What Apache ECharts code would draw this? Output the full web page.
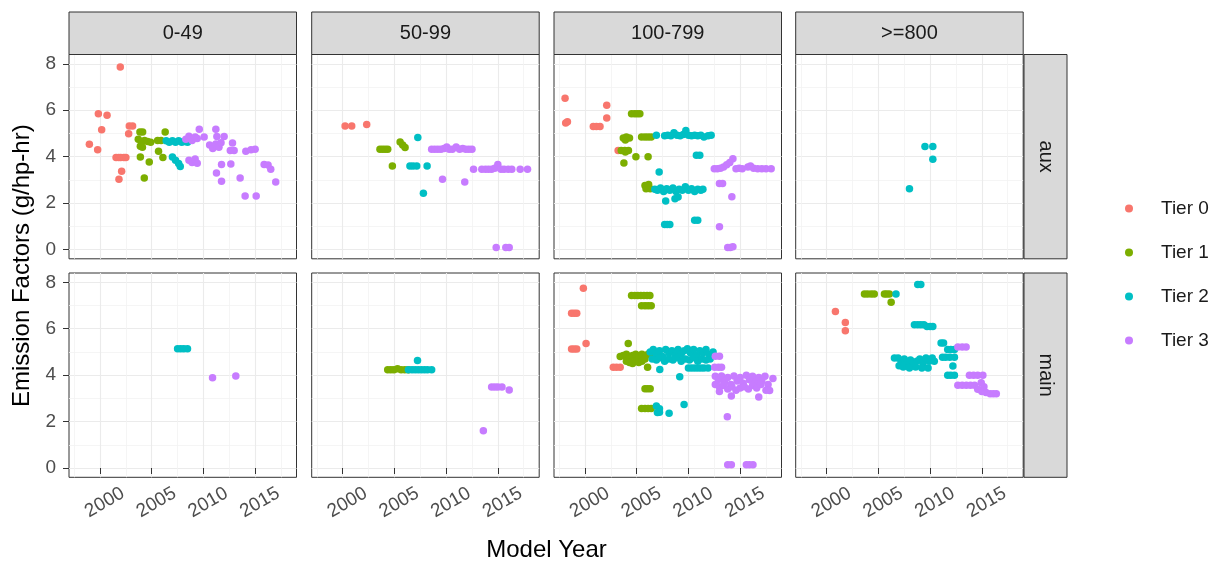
<!DOCTYPE html>
<html>
<head>
<meta charset="utf-8">
<script src="https://cdn.jsdelivr.net/npm/echarts@6/dist/echarts.min.js"></script>
<style>
html,body{margin:0;padding:0;background:#fff;}
#chart{width:1224px;height:563px;}
</style>
</head>
<body>
<div id="chart"></div>
<script>
// ---------- DATA ----------
var colLabels = ['0-49', '50-99', '100-799', '>=800'];
var rowLabels = ['aux', 'main'];
var tierNames = ['Tier 0', 'Tier 1', 'Tier 2', 'Tier 3'];
var xTicks = [2000, 2005, 2010, 2015];
var xMinor = [1997.5, 2002.5, 2007.5, 2012.5, 2017.5];
var yTicks = [0, 2, 4, 6, 8];
var yMinor = [1, 3, 5, 7];

// aux, 0-49
var aux_0_49_t0 = [[2001.96,7.86],[1999.84,5.85],[2000.68,5.78],[2000.16,5.16],[1998.97,4.53],[1999.77,4.30],[2002.83,5.32],[2003.15,5.32],[2002.77,4.99],[2001.55,3.96],[2001.8,3.96],[2002.0,3.96],[2002.3,3.96],[2002.5,3.96],[2002.09,3.37],[2001.83,3.03]];
var aux_0_49_t1 = [[2003.86,5.06],[2004.12,5.06],[2003.7,4.75],[2004.0,4.62],[2004.3,4.7],[2004.6,4.65],[2004.9,4.62],[2003.9,4.45],[2004.1,4.4],[2006.3,5.06],[2005.57,4.7],[2005.9,4.7],[2005.66,4.23],[2006.08,3.96],[2003.9,3.99],[2004.76,3.77],[2004.28,3.08]];
var aux_0_49_t2 = [[2006.4,4.68],[2006.7,4.62],[2007.0,4.68],[2007.3,4.62],[2007.6,4.68],[2007.9,4.62],[2008.2,4.65],[2008.46,4.62],[2007.0,3.99],[2007.3,3.85],[2007.76,3.58],[2007.6,3.7]];
var aux_0_49_t3 = [[2008.3,4.75],[2008.6,4.88],[2008.9,4.7],[2009.2,4.85],[2009.4,4.78],[2009.6,5.18],[2010.07,4.85],[2011.2,5.18],[2011.3,4.87],[2012.0,4.87],[2010.6,4.5],[2010.9,4.35],[2011.2,4.55],[2011.5,4.4],[2011.7,4.6],[2012.81,4.59],[2012.97,4.27],[2012.6,4.27],[2014.1,4.23],[2015.0,4.32],[2014.6,4.3],[2008.6,3.85],[2008.9,3.75],[2009.2,3.9],[2009.4,3.72],[2011.75,3.66],[2012.65,3.68],[2011.26,3.30],[2011.75,2.94],[2013.55,3.08],[2015.87,3.66],[2016.25,3.64],[2016.51,3.46],[2016.99,2.91],[2014.03,2.31],[2015.1,2.31]];

// aux, 50-99
var aux_50_99_t0 = [[2000.23,5.32],[2000.87,5.32],[2002.32,5.38]];
var aux_50_99_t1 = [[2003.6,4.32],[2003.85,4.32],[2004.1,4.32],[2004.35,4.32],[2005.55,4.63],[2005.8,4.5],[2006.03,4.39],[2004.8,3.6]];
var aux_50_99_t2 = [[2007.26,4.83],[2006.5,3.6],[2006.8,3.6],[2007.16,3.6],[2008.16,3.6],[2007.8,2.42]];
var aux_50_99_t3 = [[2008.6,4.32],[2008.9,4.32],[2009.2,4.32],[2009.5,4.32],[2009.8,4.35],[2010.06,4.42],[2010.3,4.32],[2010.6,4.32],[2010.97,4.42],[2011.3,4.32],[2011.6,4.35],[2011.9,4.32],[2012.2,4.32],[2012.5,4.32],[2009.65,3.03],[2011.8,2.91],[2012.65,3.46],[2013.45,3.46],[2013.8,3.46],[2014.1,3.46],[2014.4,3.46],[2014.7,3.5],[2015.0,3.66],[2015.3,3.46],[2015.6,3.46],[2016.0,3.46],[2016.35,3.46],[2017.16,3.46],[2017.87,3.46],[2014.84,0.09],[2015.77,0.09],[2016.1,0.09]];

// aux, 100-799
var aux_100_799_t0 = [[1998.07,6.52],[1998.13,5.45],[1998.3,5.5],[2000.8,5.3],[2001.1,5.3],[2001.45,5.3],[2002.1,6.21],[2002.1,5.66],[2003.2,4.27]];
var aux_100_799_t1 = [[2004.5,5.85],[2004.8,5.85],[2005.05,5.85],[2005.3,5.85],[2003.7,4.8],[2004.0,4.85],[2004.3,4.8],[2003.9,4.72],[2005.47,4.85],[2005.8,4.85],[2006.1,4.85],[2006.4,4.85],[2003.5,4.27],[2003.85,4.27],[2004.2,4.27],[2003.9,4.2],[2004.92,4.0],[2006.1,4.0],[2003.76,3.73],[2005.8,2.76],[2006.0,2.7],[2006.3,2.62],[2005.9,2.62],[2006.15,2.8]];
var aux_100_799_t2 = [[2006.9,4.92],[2007.7,4.9],[2008.0,4.92],[2008.3,4.9],[2008.6,5.03],[2008.9,4.92],[2009.2,4.9],[2009.5,4.95],[2009.75,5.13],[2010.0,4.92],[2010.3,4.9],[2010.6,4.92],[2010.9,4.9],[2011.2,4.92],[2011.5,4.85],[2011.9,4.9],[2012.2,4.92],[2010.77,4.06],[2011.1,4.06],[2007.17,3.34],[2006.75,2.6],[2007.0,2.55],[2007.3,2.65],[2007.6,2.5],[2007.9,2.62],[2008.2,2.55],[2008.5,2.65],[2008.8,2.5],[2009.1,2.6],[2009.4,2.55],[2009.7,2.7],[2010.0,2.55],[2010.3,2.62],[2010.6,2.5],[2010.9,2.6],[2011.2,2.55],[2011.4,2.6],[2007.8,2.09],[2008.7,2.19],[2009.0,2.26],[2007.7,1.08],[2007.95,1.08],[2008.2,1.08],[2010.6,1.26],[2010.9,1.26]];
var aux_100_799_t3 = [[2012.5,3.48],[2012.8,3.48],[2013.1,3.5],[2013.4,3.55],[2013.7,3.65],[2014.3,3.91],[2014.0,3.75],[2014.6,3.48],[2014.9,3.5],[2015.2,3.48],[2015.75,3.55],[2016.0,3.6],[2016.3,3.5],[2016.7,3.48],[2017.1,3.48],[2017.5,3.48],[2018.0,3.48],[2013.0,2.84],[2013.3,2.84],[2014.2,2.27],[2013.0,0.98],[2013.8,0.09],[2014.05,0.09],[2014.3,0.12]];

// aux, >=800
var aux_800_t0 = [];
var aux_800_t1 = [];
var aux_800_t2 = [[2009.5,4.44],[2010.26,4.44],[2010.26,3.89],[2008.0,2.62]];
var aux_800_t3 = [];

// main, 0-49
var main_0_49_t0 = [];
var main_0_49_t1 = [];
var main_0_49_t2 = [[2007.5,5.14],[2007.8,5.14],[2008.1,5.14],[2008.46,5.14]];
var main_0_49_t3 = [[2010.88,3.89],[2013.13,3.96]];

// main, 50-99
var main_50_99_t0 = [];
var main_50_99_t1 = [[2004.35,4.23],[2004.65,4.23],[2004.95,4.23],[2005.3,4.28],[2005.65,4.23],[2006.0,4.23],[2006.35,4.23]];
var main_50_99_t2 = [[2006.35,4.23],[2006.7,4.23],[2007.0,4.23],[2007.3,4.23],[2007.6,4.23],[2007.9,4.23],[2008.2,4.23],[2008.6,4.23],[2007.23,4.63]];
var main_50_99_t3 = [[2014.4,3.49],[2014.7,3.49],[2015.0,3.49],[2015.4,3.49],[2016.1,3.36],[2013.6,1.61]];

// main, 100-799
var main_100_799_t0 = [[1999.84,7.74],[1998.7,6.67],[1998.95,6.67],[1999.2,6.67],[1998.7,5.13],[1998.95,5.13],[1999.2,5.13],[2000.1,5.36],[2002.73,4.34],[2003.05,4.34],[2003.4,4.34]];
var main_100_799_t1 = [[2004.5,7.43],[2004.8,7.43],[2005.1,7.43],[2005.4,7.43],[2005.7,7.43],[2006.0,7.43],[2006.27,7.43],[2005.47,6.99],[2005.8,6.99],[2006.1,6.99],[2006.4,6.99],[2004.18,5.36],[2003.4,4.8],[2003.7,4.85],[2004.0,4.9],[2004.3,4.75],[2004.6,4.85],[2004.9,4.9],[2005.2,4.8],[2005.5,4.9],[2005.8,4.85],[2006.1,4.9],[2006.4,4.85],[2004.0,4.6],[2004.3,4.55],[2004.6,4.5],[2004.9,4.6],[2005.2,4.55],[2005.5,4.6],[2005.8,4.7],[2006.05,4.34],[2005.8,3.41],[2006.05,3.41],[2006.3,3.41],[2005.47,2.56],[2005.8,2.56],[2006.1,2.56],[2006.4,2.56]];
var main_100_799_t2 = [[2006.3,5.0],[2006.6,5.1],[2006.9,4.9],[2007.2,5.05],[2007.5,4.8],[2007.8,5.1],[2008.1,4.95],[2008.4,5.05],[2008.7,4.85],[2009.0,5.1],[2009.3,4.9],[2009.6,5.05],[2009.9,5.14],[2010.2,4.95],[2010.5,5.1],[2010.8,4.85],[2011.1,5.05],[2011.4,4.95],[2011.7,5.1],[2012.0,4.9],[2012.38,5.0],[2006.5,4.7],[2006.9,4.65],[2007.3,4.75],[2007.7,4.6],[2008.1,4.7],[2008.5,4.65],[2008.9,4.75],[2009.3,4.6],[2009.7,4.7],[2010.1,4.65],[2010.5,4.75],[2010.9,4.6],[2011.3,4.7],[2011.7,4.65],[2012.1,4.7],[2010.0,4.31],[2010.3,4.31],[2010.6,4.31],[2010.9,4.31],[2011.2,4.31],[2011.5,4.31],[2011.9,4.31],[2007.23,4.24],[2009.16,3.93],[2006.9,2.67],[2007.2,2.55],[2007.0,2.39],[2007.2,2.4],[2008.13,2.36],[2009.58,2.74]];
var main_100_799_t3 = [[2013.0,4.81],[2012.6,4.81],[2012.54,4.34],[2012.9,4.34],[2013.2,4.34],[2012.6,3.95],[2012.9,3.8],[2013.2,3.96],[2013.5,3.7],[2013.8,3.9],[2014.1,3.6],[2014.4,3.96],[2014.7,3.75],[2015.0,3.9],[2015.3,3.65],[2015.6,4.0],[2015.9,3.8],[2016.2,3.95],[2016.5,3.7],[2016.8,3.9],[2017.1,3.75],[2017.4,3.95],[2017.7,3.6],[2012.6,3.6],[2013.0,3.5],[2013.4,3.55],[2013.8,3.4],[2014.2,3.5],[2014.6,3.35],[2015.0,3.45],[2015.4,3.5],[2015.8,3.4],[2016.2,3.55],[2016.6,3.45],[2017.0,3.6],[2017.5,3.35],[2018.17,3.86],[2013.0,3.3],[2014.15,3.1],[2016.8,3.06],[2017.85,3.34],[2013.76,2.21],[2013.8,0.14],[2014.15,0.14],[2015.6,0.14],[2015.9,0.14],[2016.24,0.14]];

// main, >=800
var main_800_t0 = [[2000.84,6.74],[2001.8,6.27],[2001.8,5.91]];
var main_800_t1 = [[2003.65,7.5],[2003.95,7.5],[2004.3,7.5],[2004.6,7.5],[2005.58,7.5],[2005.8,7.5],[2006.06,7.5],[2006.23,7.14]];
var main_800_t2 = [[2006.7,7.5],[2008.8,7.91],[2009.1,7.91],[2008.48,6.17],[2008.8,6.17],[2009.1,6.17],[2009.4,6.17],[2009.7,6.1],[2010.0,6.1],[2010.26,6.1],[2011.06,5.39],[2011.3,5.39],[2011.7,5.1],[2012.0,5.1],[2012.35,5.1],[2011.2,4.77],[2011.5,4.77],[2011.9,4.77],[2012.35,4.77],[2006.55,4.74],[2006.9,4.74],[2007.2,4.6],[2007.5,4.7],[2007.8,4.5],[2008.1,4.65],[2008.4,4.4],[2008.7,4.6],[2009.0,4.7],[2009.3,4.5],[2009.6,4.74],[2009.9,4.6],[2010.2,4.74],[2010.4,4.6],[2007.0,4.4],[2007.4,4.35],[2008.0,4.31],[2008.6,4.35],[2009.2,4.31],[2009.8,4.31],[2012.2,4.39],[2011.7,4.0],[2012.0,4.0],[2012.35,4.0]];
var main_800_t3 = [[2012.68,5.21],[2013.1,5.21],[2013.48,5.21],[2013.8,4.0],[2014.2,4.0],[2014.6,4.0],[2015.1,4.0],[2012.68,3.57],[2013.1,3.57],[2013.5,3.57],[2013.9,3.57],[2014.3,3.57],[2014.6,3.39],[2015.0,3.3],[2015.4,3.25],[2015.8,3.2],[2016.1,3.2],[2016.4,3.2],[2014.94,3.67],[2015.2,3.5]];

var panelData = [
  [[aux_0_49_t0, aux_0_49_t1, aux_0_49_t2, aux_0_49_t3],
   [aux_50_99_t0, aux_50_99_t1, aux_50_99_t2, aux_50_99_t3],
   [aux_100_799_t0, aux_100_799_t1, aux_100_799_t2, aux_100_799_t3],
   [aux_800_t0, aux_800_t1, aux_800_t2, aux_800_t3]],
  [[main_0_49_t0, main_0_49_t1, main_0_49_t2, main_0_49_t3],
   [main_50_99_t0, main_50_99_t1, main_50_99_t2, main_50_99_t3],
   [main_100_799_t0, main_100_799_t1, main_100_799_t2, main_100_799_t3],
   [main_800_t0, main_800_t1, main_800_t2, main_800_t3]]
];

// ---------- LAYOUT / STYLE ----------
var colors = ['#F8766D', '#7CAE00', '#00BFC4', '#C77CFF'];
var FONT = '"Liberation Sans", Arial, sans-serif';
var colLeft = [69, 311.7, 554, 795.7];
var panelW = 227.5;
var rowTop = [54.5, 273];
var panelH = 204.3;
var stripTop = 12, stripH = 42.5;
var rStripLeft = 1024, rStripW = 43;

var grids = [], xAxes = [], yAxes = [], series = [], graphics = [];
var gi = 0;
for (var r = 0; r < 2; r++) {
  for (var c = 0; c < 4; c++) {
    grids.push({
      left: colLeft[c], top: rowTop[r], width: panelW, height: panelH,
      show: true, backgroundColor: '#fff', borderColor: '#333333', borderWidth: 1,
      containLabel: false, outerBoundsMode: 'none'
    });
    var isBottom = (r === 1), isLeft = (c === 0);
    xAxes.push({
      type: 'value', gridIndex: gi, min: 1997, max: 2019, position: 'bottom',
      axisLine: {show: false},
      axisTick: {show: isBottom, length: 6, customValues: xTicks, lineStyle: {color: '#333333', width: 1}},
      axisLabel: {show: isBottom, customValues: xTicks, rotate: 30, align: 'center', verticalAlign: 'top',
                  margin: 17, fontSize: 19, color: '#4d4d4d', fontFamily: FONT,
                  formatter: function (v) { return String(Math.round(v)); }},
      splitLine: {show: true, lineStyle: {color: '#ebebeb', width: 1.1}}
    });
    xAxes.push({
      type: 'value', gridIndex: gi, min: 1997, max: 2019, position: 'top',
      axisLine: {show: false},
      axisTick: {show: false, customValues: xMinor},
      axisLabel: {show: false, customValues: xMinor},
      splitLine: {show: true, lineStyle: {color: '#f2f2f2', width: 0.8}}
    });
    yAxes.push({
      type: 'value', gridIndex: gi, min: -0.4, max: 8.4, position: 'left',
      axisLine: {show: false},
      axisTick: {show: isLeft, length: 6, customValues: yTicks, lineStyle: {color: '#333333', width: 1}},
      axisLabel: {show: isLeft, customValues: yTicks, margin: 13, fontSize: 19, color: '#4d4d4d', fontFamily: FONT},
      splitLine: {show: true, lineStyle: {color: '#ebebeb', width: 1.1}}
    });
    yAxes.push({
      type: 'value', gridIndex: gi, min: -0.4, max: 8.4, position: 'right',
      axisLine: {show: false},
      axisTick: {show: false, customValues: yMinor},
      axisLabel: {show: false, customValues: yMinor},
      splitLine: {show: true, lineStyle: {color: '#f2f2f2', width: 0.8}}
    });
    for (var t = 0; t < 4; t++) {
      series.push({
        type: 'scatter', name: tierNames[t],
        xAxisIndex: gi * 2, yAxisIndex: gi * 2,
        data: panelData[r][c][t],
        symbol: 'circle', symbolSize: 7.5,
        itemStyle: {color: colors[t], opacity: 1},
        emphasis: {disabled: true},
        silent: true, z: 3
      });
    }
    gi++;
  }
}

// top strips
for (var c2 = 0; c2 < 4; c2++) {
  graphics.push({
    type: 'rect', shape: {x: colLeft[c2], y: stripTop, width: panelW, height: stripH},
    style: {fill: '#d9d9d9', stroke: '#333333', lineWidth: 1}, z: 10
  });
  graphics.push({
    type: 'text', x: colLeft[c2] + panelW / 2, y: stripTop + stripH / 2,
    style: {text: colLabels[c2], textAlign: 'center', textVerticalAlign: 'middle',
            font: '20px ' + FONT, fill: '#1a1a1a'}, z: 11
  });
}
// right strips
for (var r2 = 0; r2 < 2; r2++) {
  graphics.push({
    type: 'rect', shape: {x: rStripLeft, y: rowTop[r2], width: rStripW, height: panelH},
    style: {fill: '#d9d9d9', stroke: '#333333', lineWidth: 1}, z: 10
  });
  graphics.push({
    type: 'text', x: rStripLeft + rStripW / 2, y: rowTop[r2] + panelH / 2, rotation: -Math.PI / 2,
    style: {text: rowLabels[r2], textAlign: 'center', textVerticalAlign: 'middle',
            font: '20px ' + FONT, fill: '#1a1a1a'}, z: 11
  });
}
// axis titles
graphics.push({
  type: 'text', x: 546.5, y: 550,
  style: {text: 'Model Year', textAlign: 'center', textVerticalAlign: 'middle', font: '24px ' + FONT, fill: '#000'}
});
graphics.push({
  type: 'text', x: 22, y: 265.7, rotation: Math.PI / 2,
  style: {text: 'Emission Factors (g/hp-hr)', textAlign: 'center', textVerticalAlign: 'middle', font: '24px ' + FONT, fill: '#000'}
});

var chart = echarts.init(document.getElementById('chart'), null, {renderer: 'canvas'});
chart.setOption({
  animation: false,
  backgroundColor: '#ffffff',
  grid: grids,
  xAxis: xAxes,
  yAxis: yAxes,
  series: series,
  legend: {
    data: tierNames, orient: 'vertical', left: 1120, top: 194,
    icon: 'circle', itemWidth: 54, itemHeight: 8, itemGap: 25,
    selectedMode: false,
    textStyle: {fontSize: 19, color: '#1a1a1a', fontFamily: FONT}
  },
  graphic: graphics
});
</script>
</body>
</html>
